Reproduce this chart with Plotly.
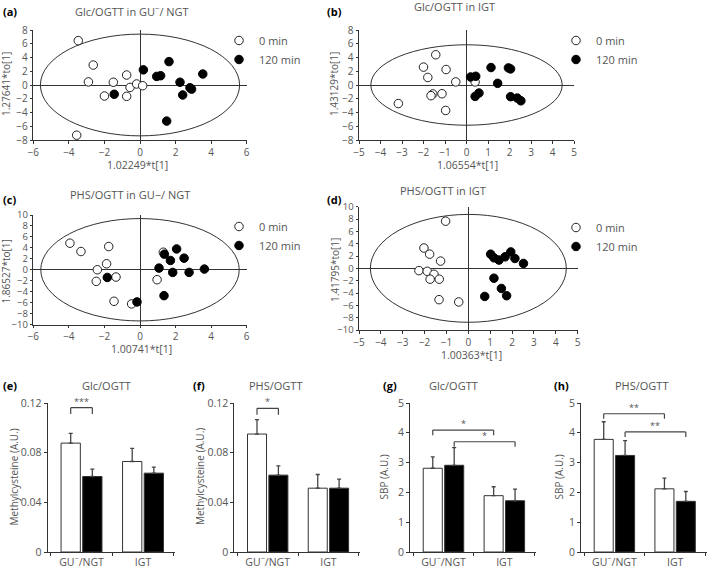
import plotly.graph_objects as go

W, H = 709, 572
def px(x): return x / W
def py(y): return 1 - y / H

# ---------------- data: score plots ----------------
a_open_x = [-3.47, -2.63, -2.90, -2.00, -1.50, -0.75, -0.75, -0.56, -0.19, 0.15, -3.56]
a_open_y = [6.45, 2.90, 0.45, -1.60, 0.40, 1.45, -1.65, -0.35, 0.15, -0.10, -7.30]
a_fill_x = [-1.45, 0.19, 0.94, 1.16, 1.63, 2.25, 2.81, 2.90, 2.40, 3.53, 1.50]
a_fill_y = [-1.35, 2.20, 1.25, 1.35, 3.40, 0.40, -0.40, -0.60, -1.45, 1.60, -5.25]

b_open_x = [-1.43, -2.00, -0.95, -1.80, -0.50, 0.40, -1.57, -1.65, -1.14, -3.17, -0.97]
b_open_y = [4.40, 2.60, 2.25, 1.10, 0.45, 0.45, -1.30, -1.55, -1.27, -2.70, -3.70]
b_fill_x = [0.19, 0.43, 1.14, 1.95, 2.05, 1.45, 0.58, 0.40, 2.05, 2.36, 2.53]
b_fill_y = [1.17, 1.27, 2.54, 2.49, 2.34, 0.24, -1.17, -1.66, -1.70, -1.90, -2.30]

c_open_x = [-3.94, -3.32, -1.76, -1.88, -2.40, -1.35, -2.46, -1.46, -0.47, 1.31, 0.96]
c_open_y = [4.85, 3.33, 4.24, 1.09, 0.00, -1.33, -2.12, -5.76, -6.24, 3.20, -1.82]
c_fill_x = [-1.84, -0.17, 2.06, 1.37, 1.71, 2.48, 1.07, 1.84, 2.76, 3.62, 1.35]
c_fill_y = [-1.40, -5.88, 3.80, 2.85, 1.70, 2.12, 0.30, -0.48, -0.48, 0.12, -4.73]

d_open_x = [-1.04, -2.03, -1.77, -1.27, -2.26, -1.88, -1.57, -1.75, -1.33, -1.34, -0.44]
d_open_y = [7.65, 3.30, 2.30, 1.18, -0.37, -0.48, -0.96, -1.76, -1.76, -5.08, -5.45]
d_fill_x = [1.02, 1.17, 1.40, 1.68, 1.94, 2.13, 2.52, 1.17, 1.51, 1.75, 0.75]
d_fill_y = [2.30, 1.71, 1.34, 1.87, 2.67, 1.60, 0.80, -1.60, -3.26, -4.44, -4.55]

# Hotelling T2 ellipse semi-axes (t, to)
ellipse_a = [5.60, 7.40]
ellipse_b = [4.45, 5.85]
ellipse_c = [5.58, 9.35]
ellipse_d = [4.48, 8.75]

# ---------------- data: bar charts ----------------
groups = ["GU<sup>−</sup>/NGT", "IGT"]
e_white, e_white_err = [0.0877, 0.0729], [0.0078, 0.0105]
e_black, e_black_err = [0.0608, 0.0635], [0.0059, 0.0048]
f_white, f_white_err = [0.0950, 0.0514], [0.0116, 0.0110]
f_black, f_black_err = [0.0619, 0.0514], [0.0075, 0.0073]
g_white, g_white_err = [2.81, 1.89], [0.38, 0.30]
g_black, g_black_err = [2.91, 1.72], [0.59, 0.39]
h_white, h_white_err = [3.78, 2.12], [0.59, 0.36]
h_black, h_black_err = [3.24, 1.70], [0.50, 0.33]
# significance brackets: (label, group_a, series_a, group_b, series_b, height)
e_sig = [("***", 0, "w", 0, "b", 0.1162)]
f_sig = [("*", 0, "w", 0, "b", 0.1157)]
g_sig = [("*", 0, "w", 1, "w", 4.09), ("*", 0, "b", 1, "b", 3.70)]
h_sig = [("**", 0, "w", 1, "w", 4.64), ("**", 0, "b", 1, "b", 4.03)]

FONT = "Open Sans"
TXT = "#555555"
LINE = "#333333"

fig = go.Figure()

scatter_panels = [
    dict(n=1, ox=a_open_x, oy=a_open_y, fx=a_fill_x, fy=a_fill_y, ell=ellipse_a,
         xr=[-6, 6], xd=2, yr=[-8, 8], yd=2, dom_x=[33.3, 246.7], dom_y=[30, 140],
         leg="legend", leg_xy=(219, 26), yfs=10),
    dict(n=2, ox=b_open_x, oy=b_open_y, fx=b_fill_x, fy=b_fill_y, ell=ellipse_b,
         xr=[-5, 5], xd=1, yr=[-8, 8], yd=2, dom_x=[359, 574], dom_y=[30, 140],
         leg="legend2", leg_xy=(556, 26), yfs=10),
    dict(n=3, ox=c_open_x, oy=c_open_y, fx=c_fill_x, fy=c_fill_y, ell=ellipse_c,
         xr=[-6, 6], xd=2, yr=[-10, 10], yd=2, dom_x=[33.3, 246.7], dom_y=[215, 324.5],
         leg="legend3", leg_xy=(219, 212), yfs=9.5),
    dict(n=4, ox=d_open_x, oy=d_open_y, fx=d_fill_x, fy=d_fill_y, ell=ellipse_d,
         xr=[-5, 5], xd=1, yr=[-10, 10], yd=2, dom_x=[359, 577.7], dom_y=[206.7, 330],
         leg="legend4", leg_xy=(556, 213), yfs=9.5),
]

axis_common = dict(showline=True, linecolor=LINE, linewidth=1, ticks="outside",
                   ticklen=3, tickcolor=LINE, showgrid=False, automargin=False,
                   tickfont=dict(family=FONT, size=10.5, color=TXT))

shapes = []
annotations = []

for p in scatter_panels:
    n = p["n"]
    xa, ya = f"x{n}", f"y{n}"
    fig.add_trace(go.Scatter(x=p["ox"], y=p["oy"], mode="markers", name="0 min",
                             xaxis=xa, yaxis=ya, legend=p["leg"],
                             marker=dict(size=8.5, color="white", line=dict(color="#222", width=1))))
    fig.add_trace(go.Scatter(x=p["fx"], y=p["fy"], mode="markers", name="120 min",
                             xaxis=xa, yaxis=ya, legend=p["leg"],
                             marker=dict(size=8.5, color="black", line=dict(color="black", width=1))))
    xdom = [px(p["dom_x"][0]), px(p["dom_x"][1])]
    ydom = [py(p["dom_y"][1]), py(p["dom_y"][0])]
    fig.layout[f"xaxis{n}"] = dict(axis_common, domain=xdom,
                                   anchor=ya, range=p["xr"], dtick=p["xd"], tick0=0,
                                   ticklen=2.5, tickfont=dict(family=FONT, size=10, color=TXT),
                                   zeroline=True, zerolinecolor=LINE, zerolinewidth=1)
    fig.layout[f"yaxis{n}"] = dict(axis_common, domain=ydom,
                                   anchor=xa, range=p["yr"], dtick=p["yd"], tick0=0,
                                   ticklen=2.5,
                                   tickfont=dict(family=FONT, size=p["yfs"], color=TXT),
                                   zeroline=True, zerolinecolor=LINE, zerolinewidth=1)
    # small tick marks along the zero lines (overlay axes without labels)
    yzero = ydom[0] + (ydom[1] - ydom[0]) * (0 - p["yr"][0]) / (p["yr"][1] - p["yr"][0])
    xzero = xdom[0] + (xdom[1] - xdom[0]) * (0 - p["xr"][0]) / (p["xr"][1] - p["xr"][0])
    fig.layout[f"xaxis{n + 10}"] = dict(overlaying=xa, anchor="free", position=yzero,
                                        domain=xdom, range=p["xr"], dtick=p["xd"], tick0=0,
                                        ticks="outside", ticklen=2.5, tickcolor=LINE,
                                        showline=False, showticklabels=False, showgrid=False,
                                        zeroline=False, automargin=False)
    fig.layout[f"yaxis{n + 10}"] = dict(overlaying=ya, anchor="free", position=xzero,
                                        range=p["yr"], dtick=p["yd"], tick0=0,
                                        ticks="outside", ticklen=2.5, tickcolor=LINE,
                                        showline=False, showticklabels=False, showgrid=False,
                                        zeroline=False, automargin=False)
    sa, sb = p["ell"]
    shapes.append(dict(type="circle", xref=xa, yref=ya, x0=-sa, x1=sa, y0=-sb, y1=sb,
                       line=dict(color=LINE, width=1), layer="below"))
    lx, ly = p["leg_xy"]
    fig.layout[p["leg"]] = dict(x=px(lx), y=py(ly), xanchor="left", yanchor="top",
                                bgcolor="rgba(0,0,0,0)", borderwidth=0,
                                font=dict(family=FONT, size=11, color=TXT),
                                tracegroupgap=0, itemwidth=30)

bar_panels = [
    dict(n=5, w=e_white, we=e_white_err, b=e_black, be=e_black_err, sig=e_sig,
         yr=[0, 0.12], tv=[0, 0.04, 0.08, 0.12], dom_x=[47.7, 175], leg=0.0051),
    dict(n=6, w=f_white, we=f_white_err, b=f_black, be=f_black_err, sig=f_sig,
         yr=[0, 0.12], tv=[0, 0.04, 0.08, 0.12], dom_x=[234.3, 360], leg=0.0051),
    dict(n=7, w=g_white, we=g_white_err, b=g_black, be=g_black_err, sig=g_sig,
         yr=[0, 5], tv=[0, 1, 2, 3, 4, 5], dom_x=[410, 536], leg=0.17),
    dict(n=8, w=h_white, we=h_white_err, b=h_black, be=h_black_err, sig=h_sig,
         yr=[0, 5], tv=[0, 1, 2, 3, 4, 5], dom_x=[581, 706.7], leg=0.17),
]
BARGAP = 0.296
OFF = (1 - BARGAP) / 4

for p in bar_panels:
    n = p["n"]
    xa, ya = f"x{n}", f"y{n}"
    for vals, errs, col in ((p["w"], p["we"], "white"), (p["b"], p["be"], "black")):
        fig.add_trace(go.Bar(x=groups, y=vals, xaxis=xa, yaxis=ya, showlegend=False,
                             marker=dict(color=col, line=dict(color=LINE, width=1)),
                             error_y=dict(type="data", symmetric=False, array=errs,
                                          arrayminus=[0] * len(errs), color="#444",
                                          thickness=1.3, width=2)))
    fig.layout[f"xaxis{n}"] = dict(axis_common, domain=[px(p["dom_x"][0]), px(p["dom_x"][1])],
                                   anchor=ya, type="category", range=[-0.55, 1.52],
                                   tickson="boundaries")
    fig.layout[f"yaxis{n}"] = dict(axis_common, domain=[py(552), py(403)], anchor=xa,
                                   range=p["yr"], tickvals=p["tv"])
    for label, ga, sa_, gb, sb_, hgt in p["sig"]:
        x0 = ga + (-OFF if sa_ == "w" else OFF)
        x1 = gb + (-OFF if sb_ == "w" else OFF)
        for (X0, Y0, X1, Y1) in ((x0, hgt - p["leg"], x0, hgt), (x0, hgt, x1, hgt),
                                 (x1, hgt, x1, hgt - p["leg"])):
            shapes.append(dict(type="line", xref=xa, yref=ya, x0=X0, y0=Y0, x1=X1, y1=Y1,
                               line=dict(color="#444", width=1.2)))
        annotations.append(dict(xref=xa, yref=ya, x=(x0 + x1) / 2, y=hgt, text=label,
                                showarrow=False, yanchor="bottom", yshift=-2,
                                font=dict(family=FONT, size=9, color=TXT)))

fig.update_layout(barmode="group", bargap=BARGAP, bargroupgap=0.11)

def ann(x, y, text, size=11, color=TXT, xanchor="center", angle=0, bold=False):
    t = f"<b>{text}</b>" if bold else text
    annotations.append(dict(xref="paper", yref="paper", x=px(x), y=py(y), text=t,
                            showarrow=False, xanchor=xanchor, yanchor="middle",
                            textangle=angle, font=dict(family=FONT, size=size, color=color)))

# panel letters
for lab, x, y in (("(a)", 1, 11), ("(b)", 325, 11), ("(c)", 1, 199), ("(d)", 325, 199),
                  ("(e)", 1, 385), ("(f)", 190.5, 385), ("(g)", 381, 385), ("(h)", 551.5, 385)):
    ann(x, y, lab, size=11, color="black", xanchor="left", bold=True)

# panel titles
for t, x, y in (("Glc/OGTT in GU<sup>−</sup>/ NGT", 132, 11), ("Glc/OGTT in IGT", 454, 7),
                ("PHS/OGTT in GU−/ NGT", 130, 194), ("PHS/OGTT in IGT", 443, 190),
                ("Glc/OGTT", 107, 385), ("PHS/OGTT", 275, 385),
                ("Glc/OGTT", 453, 385), ("PHS/OGTT", 641.5, 385)):
    ann(x, y, t, size=11)

# axis titles
for t, x, y, ang in (("1.02249*t[1]", 137, 165, 0), ("1.27641*to[1]", 6, 84, -90),
                     ("1.06554*t[1]", 467, 165, 0), ("1.43129*to[1]", 334, 84, -90),
                     ("1.00741*t[1]", 141.5, 349, 0), ("1.86527*to[1]", 5.5, 272, -90),
                     ("1.00363*t[1]", 471.5, 355, 0), ("1.41795*to[1]", 335, 270, -90),
                     ("Methylcysteine (A.U.)", 13.5, 477, -90),
                     ("Methylcysteine (A.U.)", 200, 477, -90),
                     ("SBP (A.U.)", 383.5, 477, -90), ("SBP (A.U.)", 558.5, 477, -90)):
    ann(x, y, t, size=10 if ang else 10.5, angle=ang)

fig.update_layout(width=W, height=H,
                  margin=dict(l=0, r=0, t=0, b=0, pad=0, autoexpand=False),
                  paper_bgcolor="white", plot_bgcolor="white",
                  shapes=shapes, annotations=annotations,
                  font=dict(family=FONT, size=11, color=TXT))

fig.write_html("out.html", config={"displayModeBar": False},
               post_script="document.body.style.margin='0px';")
